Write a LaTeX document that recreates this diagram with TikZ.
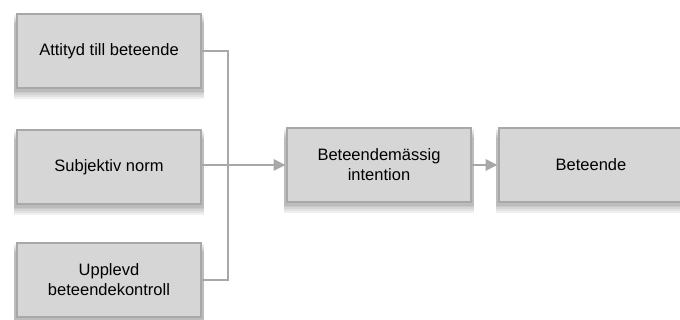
\documentclass[tikz,border=0pt]{standalone}
\usepackage{fontspec}
\setmainfont{Liberation Sans}
\usepackage{tikz}
\usepackage{xcolor}
\usetikzlibrary{arrows.meta,shapes,positioning,shadows,calc}

\definecolor{boxfill}{HTML}{D6D6D6}
\definecolor{boxline}{HTML}{A8A8A8}

\begin{document}
\begin{tikzpicture}[x=1pt,y=-1pt,
    soft/.style={general shadow={shadow yshift=-#1, shadow xshift=0pt, shadow scale=1.03, fill=black, opacity=0.06}},
    factor/.style={draw=boxline, fill=boxfill, line width=2.6pt, minimum width=184pt, minimum height=74pt,
        align=center, font=\fontsize{16.5}{20}\selectfont,
        soft=10pt, soft=8pt, soft=6pt, soft=4pt, soft=2.5pt},
    link/.style={draw=boxline, line width=2.6pt},
    flow/.style={link, -{Triangle[length=12pt,width=11pt]}}]
    \useasboundingbox (0,0) rectangle (680,320);

    % Three factors on the left
    \node[factor] (attityd) at (109,51) {Attityd till beteende};
    \node[factor] (norm) at (109,167) {Subjektiv norm};
    \node[factor] (kontroll) at (109,280) {Upplevd\\beteendekontroll};

    % Intention and behaviour
    \node[factor] (intention) at (379,165) {Beteendemässig\\intention};
    \node[factor] (beteende) at (591,165) {Beteende};

    % Joining line for the three factors
    \coordinate (top) at (228,51);
    \coordinate (bottom) at (228,280);
    \draw[link] (attityd.east) -- (top) -- (bottom) -- (kontroll.east);

    % Arrows to the right
    \draw[flow] (norm.east |- intention.west) -- (intention.west);
    \draw[flow] (intention.east) -- (beteende.west);
\end{tikzpicture}
\end{document}
